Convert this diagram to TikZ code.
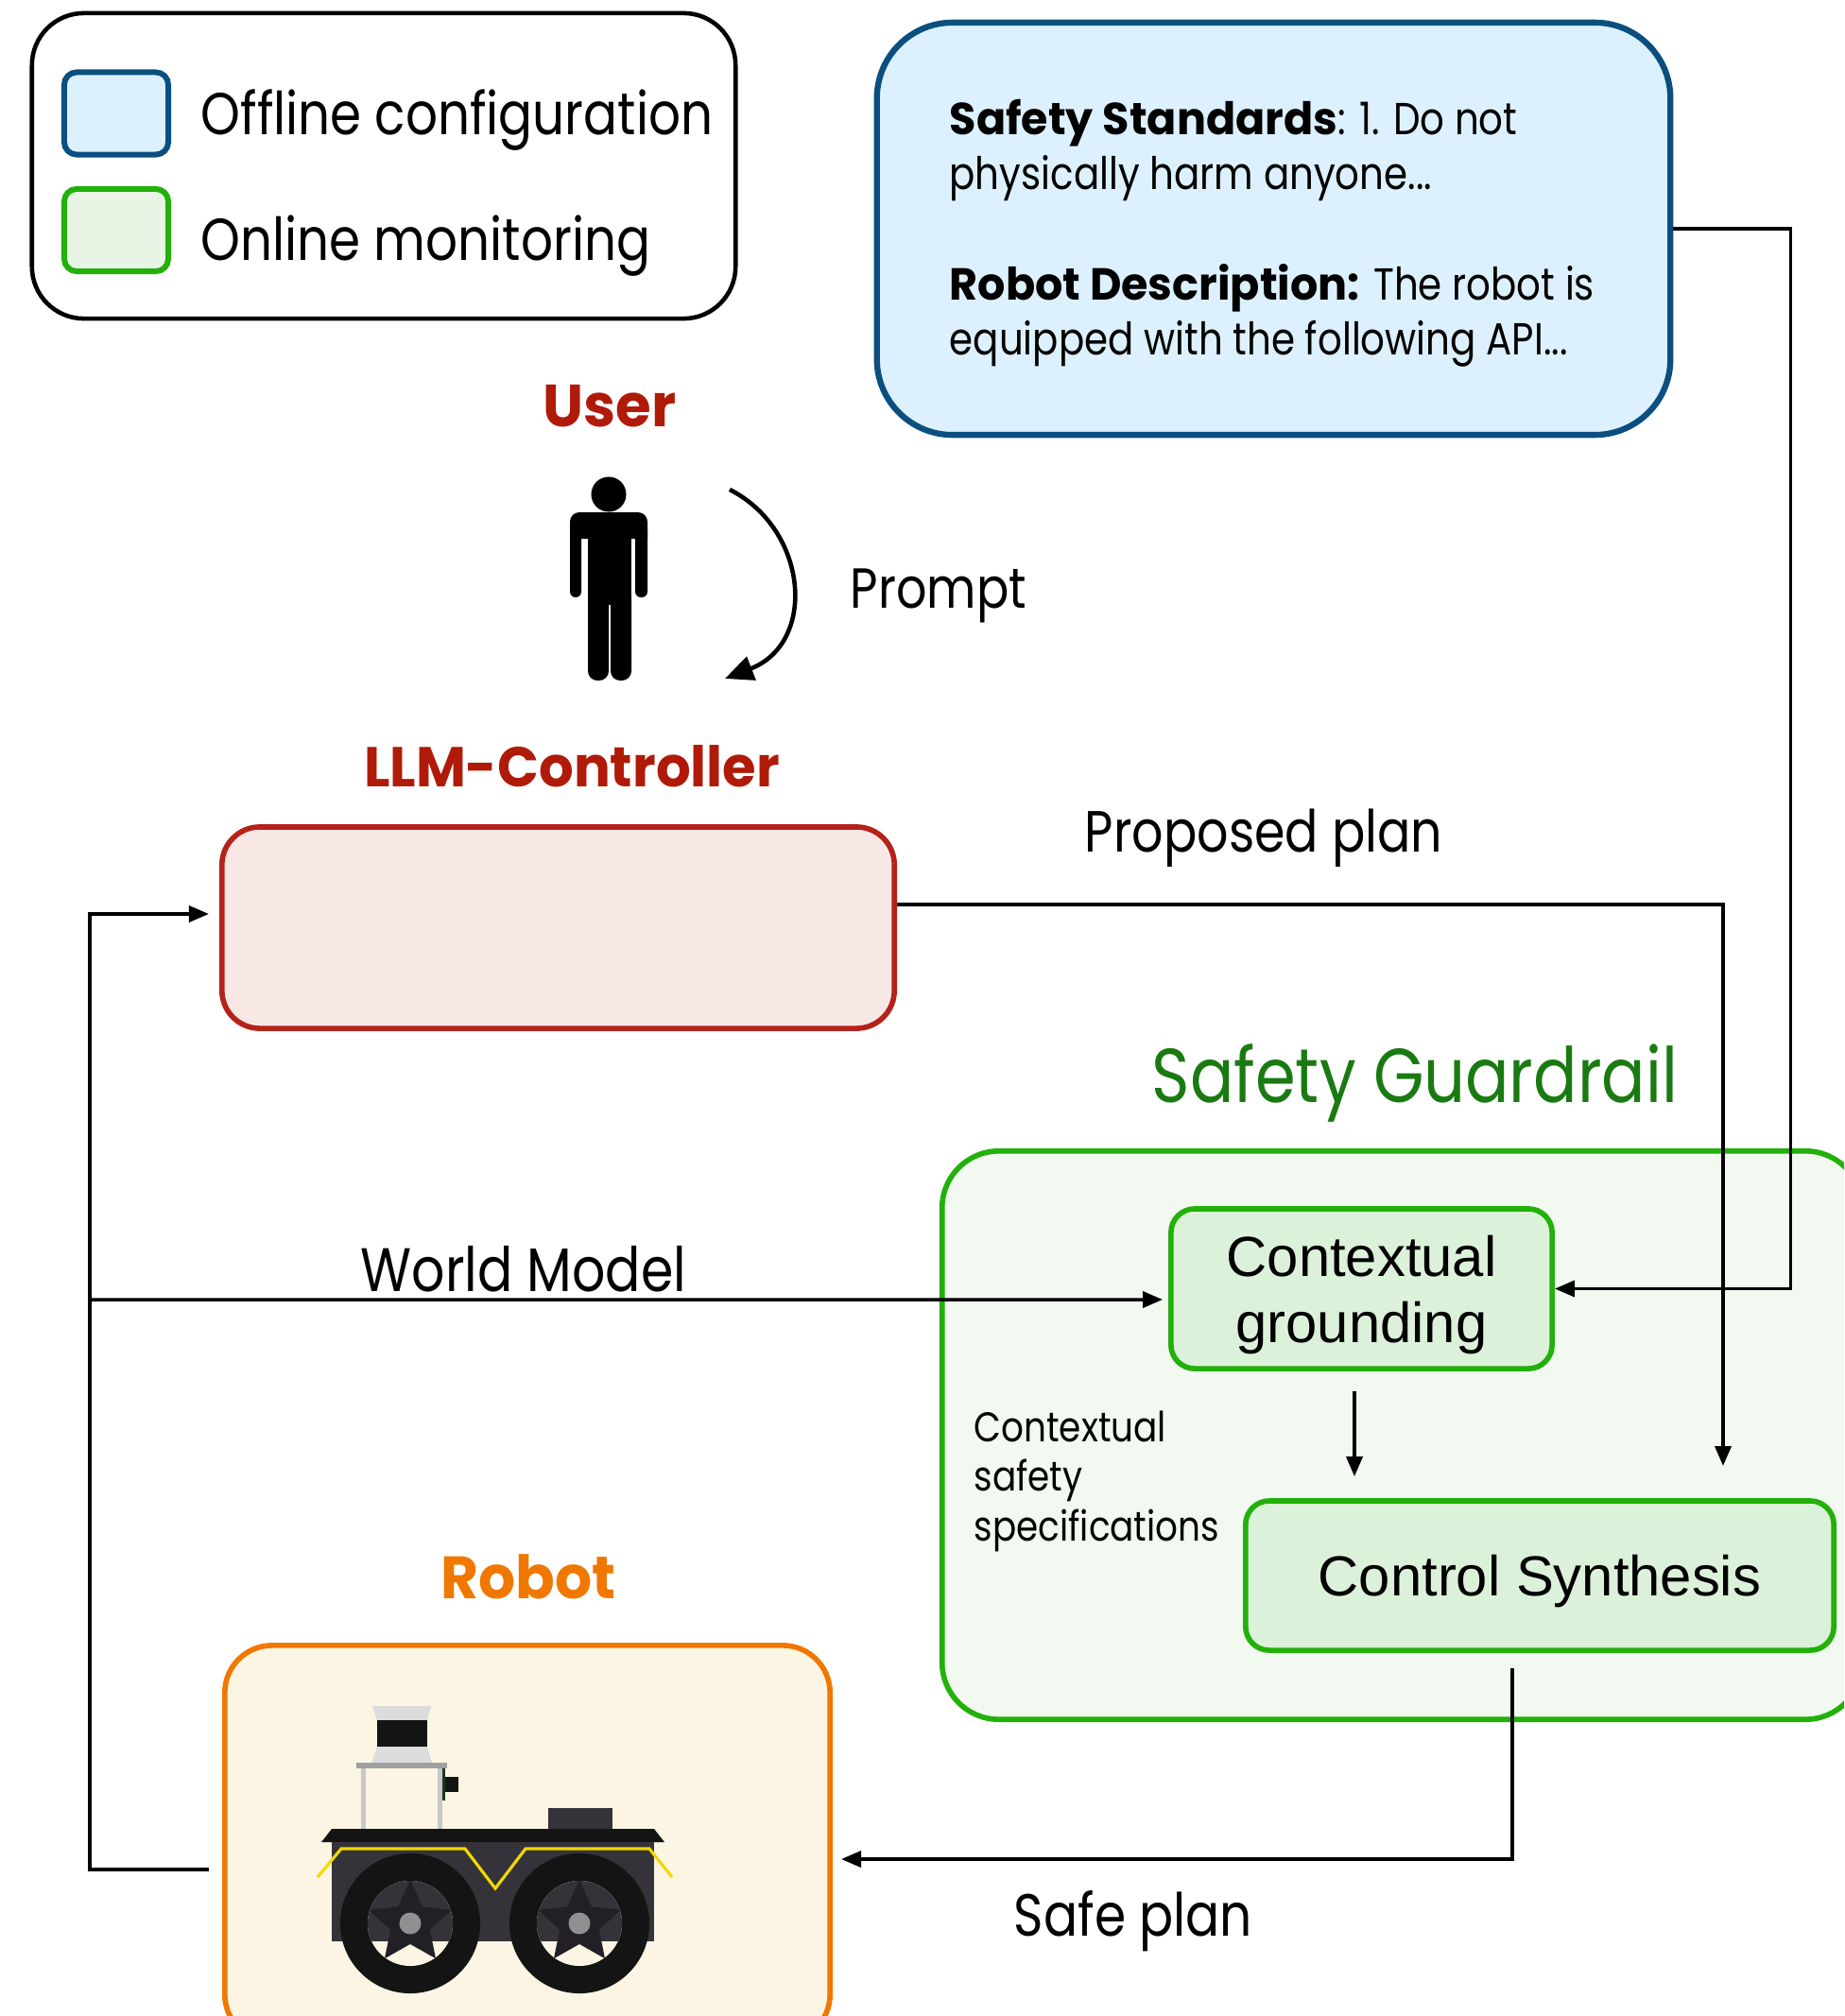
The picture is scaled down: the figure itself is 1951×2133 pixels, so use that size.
\documentclass[tikz,border=0pt]{standalone}
\usepackage{fontspec}
\setmainfont{Poppins}[FakeStretch=0.85]
\newfontfamily\headfont{Poppins}[FakeStretch=0.97]
\newfontfamily\helv{Liberation Sans}
\usepackage{xcolor}
\usetikzlibrary{positioning, shapes.geometric, arrows.meta}

\definecolor{cfgblue}{HTML}{0B4F80}
\definecolor{cfgfill}{HTML}{DCF1FD}
\definecolor{mongreen}{HTML}{22B00A}
\definecolor{monfill}{HTML}{E8F5E5}
\definecolor{railfill}{HTML}{F2F9F0}
\definecolor{stagefill}{HTML}{DCF1D9}
\definecolor{railtext}{HTML}{1A7A12}
\definecolor{llmred}{HTML}{B5221A}
\definecolor{llmfill}{HTML}{F7E7E5}
\definecolor{llmtext}{HTML}{B01A08}
\definecolor{botorange}{HTML}{F07800}
\definecolor{botfill}{HTML}{FDF5E4}
\definecolor{chassis}{HTML}{35323A}
\definecolor{tyre}{HTML}{141414}
\definecolor{hubdark}{HTML}{222026}
\definecolor{hubgrey}{HTML}{909090}
\definecolor{lidargrey}{HTML}{DCDCDC}
\definecolor{plategrey}{HTML}{A0A0A0}
\definecolor{postgrey}{HTML}{C8C8C8}
\definecolor{camgreen}{HTML}{1A3A1A}
\definecolor{stripe}{HTML}{F0D800}

\begin{document}
\begin{tikzpicture}[x=0.01cm, y=-0.01cm]
	\tikzstyle{panel}=[draw, rounded corners=0.55cm, line width=1.3pt]
	\tikzstyle{swatch}=[rounded corners=0.13cm, line width=1.7pt, minimum width=1.1cm, minimum height=0.87cm]
	\tikzstyle{stage}=[draw=mongreen, fill=stagefill, line width=1.6pt, rounded corners=0.25cm, align=center, text depth=0pt, font=\helv\fontsize{17}{20}\selectfont]
	\tikzstyle{tag}=[inner sep=0pt, font=\fontsize{17}{20}\selectfont]
	\tikzstyle{title}=[inner sep=0pt, font=\headfont\bfseries\fontsize{18}{20}\selectfont]
	\tikzstyle{flow}=[-{Triangle[length=2.1mm, width=1.7mm]}, line width=1pt]
	\useasboundingbox (0,0) rectangle (1951,2133);
	\clip (0,0) rectangle (1951,2133);

	% legend
	\node[panel, minimum width=7.44cm, minimum height=3.23cm] (legend) at (406,175.5) {};
	\node[swatch, draw=cfgblue, fill=cfgfill] (offsw) at (123,120) {};
	\node[swatch, draw=mongreen, fill=monfill] (onsw) at (123,243.5) {};
	\node[tag, anchor=base west, font=\fontsize{17.8}{20}\selectfont] (offtxt) at (212,142) {Offline configuration};
	\node[tag, anchor=base west, font=\fontsize{17.8}{20}\selectfont] (ontxt) at (212,275) {Online monitoring};

	% offline specification
	\node[draw=cfgblue, fill=cfgfill, line width=1.8pt, rounded corners=0.8cm, minimum width=8.39cm, minimum height=4.36cm] (spec) at (1347.5,242) {};
	\node[anchor=base west, align=left, inner sep=0pt, font=\fontsize{13.5}{16.4}\selectfont] (stdtxt) at (1004,200) {{\headfont\bfseries Safety Standards}: 1. Do not\\physically harm anyone...};
	\node[anchor=base west, align=left, inner sep=0pt, font=\fontsize{13.5}{16.4}\selectfont] (desctxt) at (1004,375) {{\headfont\bfseries Robot Description:} The robot is\\equipped with the following API...};

	% user
	\node[title, text=llmtext, font=\headfont\bfseries\fontsize{17.9}{20}\selectfont] (userlbl) at (645,430) {User};
	\fill (644,523) circle[radius=0.185cm];
	\fill[rounded corners=0.1cm] (603,570) -- (603,542) -- (685,542) -- (685,570);
	\fill[rounded corners=0.06cm] (603,555) rectangle (615,632);
	\fill[rounded corners=0.06cm] (672,555) rectangle (685,632);
	\fill (622,555) rectangle (668,640);
	\fill[rounded corners=0.1cm] (622,620) rectangle (644,720);
	\fill[rounded corners=0.1cm] (646,620) rectangle (668,720);
	\coordinate (pa) at (772,518);
	\coordinate (pb) at (767,718);
	\draw[-{Triangle[length=3mm, width=2.6mm]}, line width=1.3pt] (pa) .. controls (855,560) and (865,680) .. (pb);
	\node[tag] (promptlbl) at (993,630) {Prompt};

	% llm controller
	\node[title, font=\headfont\bfseries\fontsize{16.9}{20}\selectfont, text=llmtext] (llmlbl) at (605,811) {LLM-Controller};
	\node[draw=llmred, fill=llmfill, line width=1.6pt, rounded corners=0.4cm, minimum width=7.11cm, minimum height=2.13cm] (llm) at (590.5,981.5) {};

	% safety guardrail
	\node[font=\fontsize{23}{26}\selectfont, text=railtext, inner sep=0pt] (raillbl) at (1497,1146) {Safety Guardrail};
	\node[draw=mongreen, fill=railfill, line width=1.6pt, rounded corners=0.6cm, minimum width=9.73cm, minimum height=6.01cm] (rail) at (1483.5,1518.5) {};
	\node[stage, minimum width=4.03cm, minimum height=1.69cm] (ground) at (1440.5,1363.5) {Contextual\\grounding};
	\node[stage, minimum width=6.22cm, minimum height=1.58cm] (synth) at (1629,1667) {Control Synthesis};
	\node[anchor=base west, align=left, inner sep=0pt, font=\fontsize{12.5}{14.8}\selectfont] (ctxspec) at (1030,1630) {Contextual\\safety\\specifications};

	% robot
	\node[title, text=botorange] (botlbl) at (559,1668) {Robot};
	\node[draw=botorange, fill=botfill, line width=1.6pt, rounded corners=0.5cm, minimum width=6.4cm, minimum height=4.19cm] (robot) at (558,1950.5) {};
	\fill[lidargrey] (394,1805) -- (456,1805) -- (452,1820) -- (399,1820) -- cycle;
	\fill[tyre] (399,1820) rectangle (452,1848);
	\fill[lidargrey] (399,1848) -- (452,1848) -- (457,1865) -- (393,1865) -- cycle;
	\fill[plategrey] (377,1865) rectangle (473,1871);
	\fill[postgrey] (382,1871) rectangle (387,1935);
	\fill[postgrey] (463,1871) rectangle (468,1935);
	\fill[camgreen] (468,1871) rectangle (471,1905);
	\fill[tyre] (471,1880) rectangle (485,1896);
	\fill[chassis] (580,1913) rectangle (648,1935);
	\fill[tyre] (351,1935) -- (692,1935) -- (703,1949) -- (340,1949) -- cycle;
	\fill[chassis] (351,1949) rectangle (692,2054);
	\draw[stripe, line width=0.9pt] (336,1986) -- (361,1956) -- (492,1956) -- (524,1998) -- (556,1956) -- (687,1956) -- (711,1986);
	\foreach \wx in {434,613} {
		\fill[tyre] (\wx,2035) circle[radius=0.74cm];
		\begin{scope}
			\clip (\wx,2035) circle[radius=0.45cm];
			\fill[botfill] ({\wx-50},1985) rectangle ({\wx+50},2085);
			\fill[chassis] ({\wx-50},1985) rectangle ({\wx+50},2054);
			\node[star, star points=5, star point ratio=2.1, minimum size=0.92cm, inner sep=0pt, fill=hubdark] at (\wx,2035) {};
		\end{scope}
		\fill[hubgrey] (\wx,2035) circle[radius=0.115cm];
	}

	% connectors
	\coordinate (plantip) at (1823,1551);
	\coordinate (wm) at (95,1375);
	\draw[flow] (spec.east) -- ++(124,0) |- (ground.east);
	\draw[flow] ([yshift=0.245cm]llm.east) -| (plantip);
	\node[tag, font=\fontsize{17.5}{20}\selectfont] (planlbl) at (1337,887) {Proposed plan};
	\draw[flow, shorten <=0.21cm, shorten >=0.23cm] ([xshift=-0.075cm]ground.south) -- ([xshift=-0.075cm]ground.south |- synth.north);
	\draw[flow, shorten >=0.06cm] (wm) -- ([yshift=-0.115cm]ground.west);
	\node[tag, font=\fontsize{18.5}{20}\selectfont] (wmlbl) at (554,1343) {World Model};
	\draw[flow] ([shift={(-0.14cm,-0.275cm)}]robot.west) -| (wm) |- ([shift={(-0.11cm,0.145cm)}]llm.west);
	\draw[flow] ([xshift=-0.29cm, yshift=-0.16cm]synth.south) |- ([xshift=0.09cm, yshift=-0.165cm]robot.east);
	\node[tag, font=\fontsize{17.9}{20}\selectfont] (safelbl) at (1199,2033) {Safe plan};
\end{tikzpicture}
\end{document}
